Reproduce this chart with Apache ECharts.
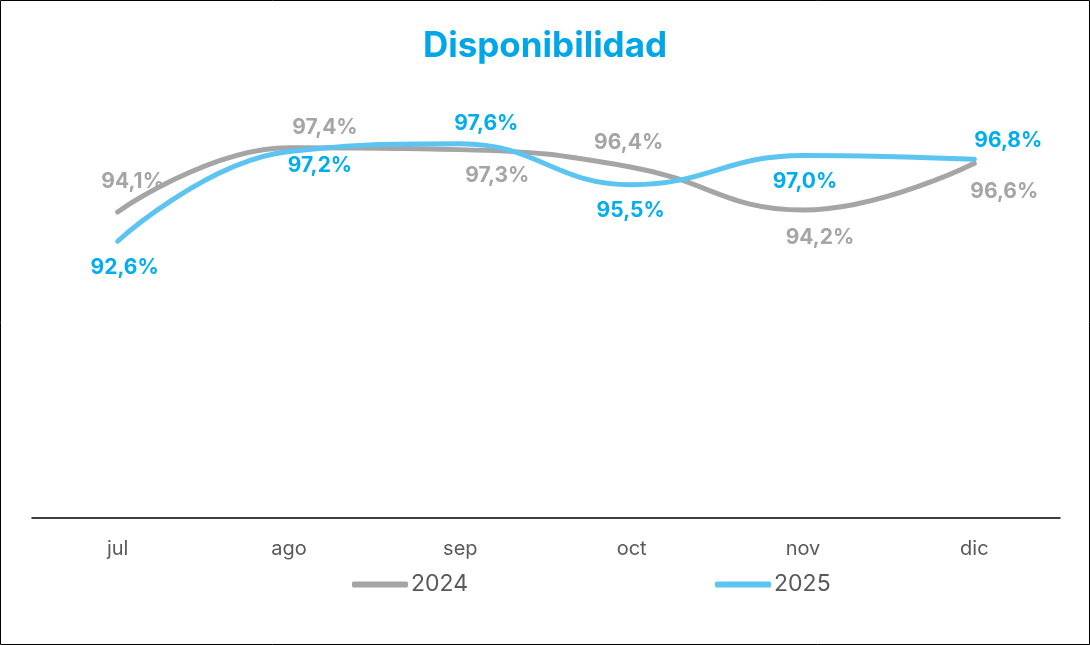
<!DOCTYPE html>
<html>
<head>
<meta charset="utf-8">
<script src="https://cdn.jsdelivr.net/npm/echarts@6/dist/echarts.min.js"></script>
<style>
  body { margin: 0; background: #fff; }
  #chart { width: 1090px; height: 645px; }
</style>
</head>
<body>
<div id="chart"></div>
<script>
// datos
const meses = ['jul', 'ago', 'sep', 'oct', 'nov', 'dic']
const disp2024 = [94.1, 97.4, 97.3, 96.4, 94.2, 96.6]
const disp2025 = [92.6, 97.2, 97.6, 95.5, 97.0, 96.8]

const gris = '#a5a5a5'
const azulLinea = '#5bc4f1'
const azulTexto = '#00aeef'

// posicion de cada etiqueta (arriba/abajo y desplazamiento)
const etiquetas2024 = [
    { position: 'top', offset: [15, -15] },
    { position: 'top', offset: [36, -4] },
    { position: 'bottom', offset: [37, 11] },
    { position: 'top', offset: [-3, -9] },
    { position: 'bottom', offset: [17, 12] },
    { position: 'bottom', offset: [30, 13] }
]
const etiquetas2025 = [
    { position: 'bottom', offset: [7, 11] },
    { position: 'bottom', offset: [31, -1] },
    { position: 'top', offset: [26, -5] },
    { position: 'bottom', offset: [-1, 10] },
    { position: 'bottom', offset: [2, 11] },
    { position: 'top', offset: [34, -3] }
]

function fmt(p) {
    return p.value.toFixed(1).replace('.', ',') + '%'
}

function puntos(valores, etiquetas) {
    return valores.map((v, i) => ({ value: v, label: etiquetas[i] }))
}

let myChart = echarts.init(document.querySelector('#chart'))

const option = {
    animation: false,
    backgroundColor: '#fff',
    textStyle: { fontFamily: 'Inter, sans-serif' },
    title: {
        text: 'Disponibilidad',
        left: 'center',
        top: 24,
        textStyle: {
            color: '#00a6e8',
            fontSize: 35,
            fontWeight: 'bold',
            fontFamily: 'Inter, sans-serif'
        }
    },
    graphic: [{
        type: 'rect',
        shape: { x: 0.5, y: 0.5, width: 1089, height: 644 },
        style: { fill: 'none', stroke: '#000', lineWidth: 1 },
        silent: true
    }],
    legend: {
        left: 352,
        top: 573,
        padding: 0,
        itemGap: 247,
        itemWidth: 56,
        itemHeight: 6,
        icon: 'roundRect',
        textStyle: { color: '#595959', fontSize: 23, padding: [0, 0, 0, -2] }
    },
    grid: {
        left: 32,
        right: 30,
        top: 97,
        bottom: 127
    },
    xAxis: {
        type: 'category',
        data: meses,
        axisLine: { lineStyle: { color: '#000', width: 1.5 } },
        axisTick: { show: false },
        axisLabel: { color: '#595959', fontSize: 20, margin: 21 }
    },
    yAxis: {
        type: 'value',
        min: 78.4,
        max: 100,
        show: false,
        splitLine: { show: false }
    },
    series: [
        {
            name: '2024',
            type: 'line',
            data: puntos(disp2024, etiquetas2024),
            smooth: 0.45,
            symbol: 'circle',
            symbolSize: 0,
            itemStyle: { color: gris },
            lineStyle: { color: gris, width: 5, cap: 'round' },
            label: {
                show: true,
                formatter: fmt,
                color: gris,
                fontSize: 21,
                fontWeight: 'bold'
            }
        },
        {
            name: '2025',
            type: 'line',
            data: puntos(disp2025, etiquetas2025),
            smooth: 0.45,
            symbol: 'circle',
            symbolSize: 0,
            itemStyle: { color: azulLinea },
            lineStyle: { color: azulLinea, width: 5, cap: 'round' },
            label: {
                show: true,
                formatter: fmt,
                color: azulTexto,
                fontSize: 21,
                fontWeight: 'bold'
            }
        }
    ]
}

myChart.setOption(option)
</script>
</body>
</html>
